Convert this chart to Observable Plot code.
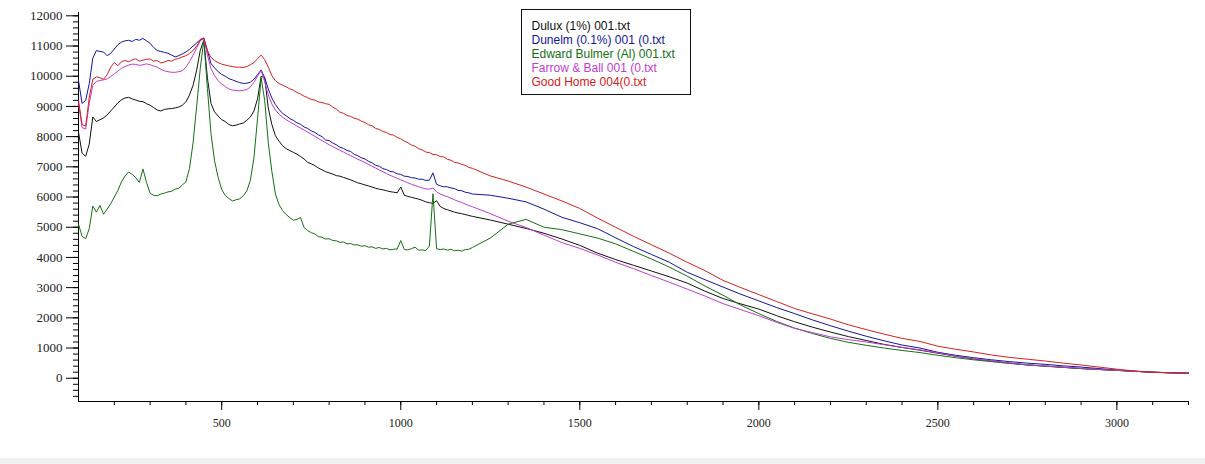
<!DOCTYPE html>
<html><head><meta charset="utf-8">
<script src="https://cdn.jsdelivr.net/npm/d3@7"></script>
<script src="https://cdn.jsdelivr.net/npm/@observablehq/plot@0.6"></script>
<style>
html,body{margin:0;padding:0;background:#f0f0f0;}
#wrap{position:relative;width:1205px;height:458px;background:#fff;overflow:hidden;}
#legend{position:absolute;left:521px;top:9px;width:170px;height:86px;box-sizing:border-box;border:1.5px solid #111;background:#fff;
  font:12px "Liberation Sans",Arial,sans-serif;padding:9px 0 0 9.5px;line-height:14px;white-space:nowrap;}
</style></head>
<body>
<div id="wrap"><div id="legend"></div></div>
<script>
// Raman shift sample positions (cm-1)
const ramanShift = [
100,110,120,130,140,150,160,170,180,190,200,210,220,230,240,250,260,270,280,290,
300,310,320,330,340,350,360,370,380,390,400,410,420,430,440,450,460,470,480,490,
500,510,520,530,540,550,560,570,580,590,600,610,620,630,640,650,660,670,680,690,
700,710,720,730,740,750,760,770,780,790,800,810,820,830,840,850,860,870,880,890,
900,910,920,930,940,950,960,970,980,990,1000,1010,1020,1030,1040,1050,1060,1070,1080,1090,
1100,1110,1120,1130,1140,1150,1160,1170,1180,1190,1200,
1250,1300,1350,1400,1450,1500,1550,1600,1650,1700,1750,1800,1850,1900,1950,2000,
2050,2100,2150,2200,2250,2300,2350,2400,2450,2500,2550,2600,2650,2700,2750,2800,
2850,2900,2950,3000,3050,3100,3150,3200];

const seriesNames = ["Dulux (1%) 001.txt","Dunelm (0.1%) 001 (0.txt","Edward Bulmer (Al) 001.txt","Farrow & Ball 001 (0.txt","Good Home 004(0.txt"];
const seriesColors = ["#111111","#1414a0","#157015","#c03ccf","#d42020"];

const dulux = [
8150,7450,7350,7750,8650,8500,8560,8620,8720,8850,8980,9120,9220,9280,9300,9250,9210,9170,9160,9090,
9040,8960,8880,8850,8900,8920,8930,8950,8980,9040,9150,9380,9700,10200,10850,11200,9950,9100,8820,8680,
8560,8500,8400,8360,8380,8420,8450,8540,8650,8850,9250,10000,9950,8950,8400,8030,7850,7700,7600,7540,
7480,7420,7340,7260,7150,7100,7040,6960,6900,6840,6800,6760,6710,6690,6650,6610,6570,6520,6470,6440,
6400,6370,6330,6290,6260,6240,6210,6180,6160,6140,6330,6060,6020,5990,5960,5930,5890,5840,5810,5790,
5880,5690,5620,5580,5540,5500,5470,5450,5420,5390,5360,
5240,5100,4960,4800,4610,4400,4140,3930,3740,3550,3360,3150,2880,2640,2460,2290,
2070,1870,1690,1530,1380,1250,1120,1020,930,830,730,640,570,500,440,400,
360,320,290,260,230,200,180,170];

const dunelm = [
9860,9100,9200,9750,10600,10850,10820,10800,10680,10760,10900,11040,11130,11170,11190,11150,11220,11190,11250,11170,
11090,10950,10850,10820,10790,10760,10700,10640,10680,10740,10800,10890,11000,11100,11220,11260,10850,10420,10280,10150,
10060,10000,9920,9880,9830,9790,9760,9770,9800,9900,10050,10210,9950,9580,9280,9060,8900,8770,8690,8600,
8540,8460,8410,8320,8270,8190,8140,8060,8000,7890,7870,7790,7730,7650,7610,7540,7510,7410,7370,7300,
7260,7180,7130,7050,7020,6940,6910,6850,6830,6770,6750,6690,6680,6640,6630,6590,6590,6550,6560,6800,
6420,6370,6340,6340,6300,6280,6220,6210,6160,6140,6100,
6060,5960,5840,5600,5330,5150,4950,4650,4360,4100,3840,3510,3260,3020,2780,2560,
2340,2140,1930,1740,1560,1390,1240,1100,1000,860,760,680,610,550,500,460,
410,370,320,270,230,200,180,165];

const edwardBulmer = [
5100,4700,4620,4950,5700,5500,5720,5430,5600,5780,6000,6220,6500,6700,6830,6750,6640,6480,6930,6480,
6120,6060,6040,6100,6130,6170,6190,6260,6290,6400,6500,6950,7800,9000,10250,11200,9600,8100,7200,6650,
6250,6050,5950,5870,5910,5940,6040,6200,6550,7300,8600,9950,9200,7800,6850,6100,5750,5550,5420,5320,
5230,5260,5320,4990,4890,4820,4780,4690,4670,4610,4620,4560,4550,4500,4510,4450,4460,4410,4420,4370,
4390,4340,4350,4300,4330,4280,4300,4250,4270,4280,4560,4260,4250,4290,4340,4240,4250,4230,4380,6110,
4290,4260,4280,4240,4270,4220,4240,4210,4260,4270,4330,
4640,5100,5260,5000,4920,4780,4640,4450,4200,3950,3680,3380,3050,2750,2420,2140,
1880,1660,1480,1320,1190,1090,1000,920,850,760,680,610,550,490,440,400,
360,320,290,260,230,200,180,165];

const farrowBall = [
9100,8300,8250,9100,9700,9830,9860,9880,9910,9990,10080,10170,10260,10320,10370,10400,10390,10360,10380,10410,
10380,10340,10300,10230,10180,10150,10130,10130,10150,10180,10300,10480,10700,10940,11180,11250,10700,10250,10020,9850,
9740,9660,9580,9540,9530,9520,9530,9560,9640,9800,10000,10190,9820,9380,9080,8880,8740,8640,8560,8490,
8420,8350,8280,8220,8150,8080,8010,7940,7870,7800,7730,7670,7610,7550,7490,7430,7370,7310,7250,7200,
7140,7080,7020,6960,6900,6840,6780,6720,6670,6620,6570,6520,6470,6420,6380,6340,6300,6270,6260,6300,
6170,6100,6050,6010,5960,5910,5860,5820,5770,5720,5680,
5450,5200,4990,4740,4490,4300,4080,3840,3630,3400,3180,2950,2720,2470,2270,2070,
1850,1650,1510,1370,1280,1200,1110,1020,940,840,730,650,580,510,450,410,
370,330,290,260,230,200,180,165];

const goodHome = [
9200,8400,8350,9300,9900,9980,9950,9900,10050,10300,10450,10350,10480,10520,10480,10540,10580,10500,10530,10560,
10570,10500,10520,10440,10470,10520,10500,10560,10590,10640,10680,10750,10850,11000,11180,11270,10850,10620,10520,10450,
10400,10370,10340,10320,10300,10300,10290,10320,10380,10450,10580,10700,10550,10300,10020,9850,9760,9700,9650,9580,
9540,9460,9410,9340,9290,9230,9210,9150,9130,9090,9070,8980,8910,8810,8770,8700,8670,8610,8580,8510,
8470,8390,8360,8270,8240,8170,8140,8070,8050,7970,7930,7850,7800,7720,7680,7600,7560,7490,7470,7410,
7400,7340,7330,7250,7220,7150,7130,7080,7050,6980,6950,
6700,6530,6330,6100,5870,5620,5300,5000,4700,4420,4140,3840,3560,3240,3000,2770,
2540,2310,2130,1960,1770,1610,1460,1320,1220,1060,960,870,770,690,630,570,
500,440,370,300,240,200,180,165];

const yMajorTicks = [0,1000,2000,3000,4000,5000,6000,7000,8000,9000,10000,11000,12000];
const xMajorTicks = [500,1000,1500,2000,2500,3000];
const yMinorTicks = d3.range(-600, 12001, 200);
const xMinorTicks = d3.range(200, 3201, 100);

const allSeries = [dulux, dunelm, edwardBulmer, farrowBall, goodHome];
const lineMarks = allSeries.map((vals, k) =>
  Plot.line(ramanShift.map((x, i) => ({x, v: vals[i]})), {x: "x", y: "v", stroke: seriesColors[k], strokeWidth: 1})
);

const chart = Plot.plot({
  width: 1205, height: 458,
  marginLeft: 78, marginRight: 17, marginTop: 12, marginBottom: 57,
  style: {fontFamily: '"Liberation Serif","Times New Roman",serif', fontSize: "12px", color: "#222", background: "#fff"},
  x: {domain: [100, 3200], label: null},
  y: {domain: [-770, 12110], label: null},
  marks: [
    Plot.axisY(yMinorTicks, {tickSize: 5, tickFormat: () => "", label: null, stroke: "#000"}),
    Plot.axisY(yMajorTicks, {tickSize: 12, tickPadding: 4, tickFormat: d => String(d), label: null, fontSize: 13, stroke: "#000"}),
    Plot.axisX(xMinorTicks, {tickSize: 4, tickFormat: () => "", label: null, stroke: "#000"}),
    Plot.axisX(xMajorTicks, {tickSize: 9, tickPadding: 8, tickFormat: d => String(d), label: null, stroke: "#000"}),
    Plot.ruleX([100], {stroke: "#000"}),
    Plot.ruleY([-770], {stroke: "#000"}),
    ...lineMarks
  ]
});
document.getElementById("wrap").prepend(chart);

const leg = document.getElementById("legend");
seriesNames.forEach((n, k) => {
  const d = document.createElement("div");
  d.textContent = n;
  d.style.color = seriesColors[k];
  leg.appendChild(d);
});
</script>
</body></html>
